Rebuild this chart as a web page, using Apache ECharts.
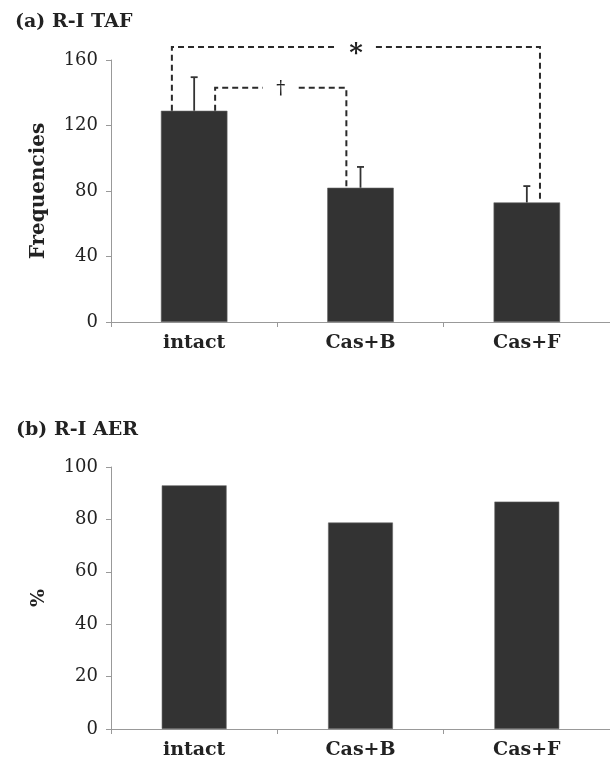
<!DOCTYPE html>
<html>
<head>
<meta charset="utf-8">
<script src="https://cdn.jsdelivr.net/npm/echarts@6/dist/echarts.min.js"></script>
<style>html,body{margin:0;padding:0;background:#fff}#c{width:610px;height:762px}</style>
</head>
<body>
<div id="c"></div>
<script>
// ---- data ----
const categories = ['intact', 'Cas+B', 'Cas+F'];
const tafMean = [129, 82, 73];
const tafErr = [20.5, 12.7, 10];
const aerPercent = [93, 78.8, 86.8];
const tafTicks = [0, 40, 80, 120, 160];
const aerTicks = [0, 20, 40, 60, 80, 100];
// significance brackets: from category, to category, bracket level, marker
const bracketFrom = [0, 0];
const bracketTo = [2, 1];
const bracketLevel = [168, 143];
const bracketMark = ['*', '\u2020'];

// ---- styling ----
const FONT = 'DejaVu Serif';
const BAR = '#333333';
const AXIS = '#999999';
// horizontal offsets of bracket ends, as a fraction of a category width
const leftOff = [-0.134, 0.126];
const rightOff = [0.079, -0.085];
const gapHalf = [20, 18];

const chart = echarts.init(document.getElementById('c'), null, {renderer: 'canvas'});

const bracketData = bracketFrom.map((f, i) => [f, bracketTo[i], bracketLevel[i], tafMean[f], tafMean[bracketTo[i]], i]);
const errData = categories.map((c, i) => [i, tafMean[i], tafMean[i] + tafErr[i]]);

function yAxisCfg(gi, ticks, name, nameSize) {
  return {
    type: 'value', gridIndex: gi, min: ticks[0], max: ticks[ticks.length - 1],
    interval: ticks[1] - ticks[0],
    name: name, nameLocation: 'middle', nameGap: 62, nameRotate: 90,
    nameTextStyle: {fontFamily: FONT, fontWeight: 'bold', fontSize: nameSize, color: '#222'},
    axisLine: {show: true, lineStyle: {color: AXIS, width: 1}},
    axisTick: {show: true, length: 5, lineStyle: {color: AXIS}},
    splitLine: {show: false},
    axisLabel: {fontFamily: FONT, fontSize: 18, color: '#222', margin: 13}
  };
}
function xAxisCfg(gi) {
  return {
    type: 'category', gridIndex: gi, data: categories,
    axisLine: {show: true, lineStyle: {color: AXIS, width: 1}},
    axisTick: {show: true, length: 5, alignWithLabel: false, lineStyle: {color: AXIS}},
    axisLabel: {fontFamily: FONT, fontWeight: 'bold', fontSize: 19, color: '#222', margin: 12}
  };
}

const option = {
  animation: false,
  backgroundColor: '#fff',
  title: [
    {text: '(a) R-I TAF', left: 10, top: 8, textStyle: {fontFamily: FONT, fontWeight: 'bold', fontSize: 19, color: '#222'}},
    {text: '(b) R-I AER', left: 11, top: 416, textStyle: {fontFamily: FONT, fontWeight: 'bold', fontSize: 19, color: '#222'}}
  ],
  grid: [
    {left: 111, top: 60, width: 502, height: 262},
    {left: 111, top: 467, width: 502, height: 262}
  ],
  xAxis: [xAxisCfg(0), xAxisCfg(1)],
  yAxis: [yAxisCfg(0, tafTicks, 'Frequencies', 20), yAxisCfg(1, aerTicks, '%', 19)],
  series: [
    {type: 'bar', xAxisIndex: 0, yAxisIndex: 0, data: tafMean, barWidth: '40%',
      itemStyle: {color: BAR, borderColor: '#666', borderWidth: 0.6}},
    {type: 'bar', xAxisIndex: 1, yAxisIndex: 1, data: aerPercent, barWidth: '39%',
      itemStyle: {color: BAR, borderColor: '#666', borderWidth: 0.6}},
    {type: 'custom', xAxisIndex: 0, yAxisIndex: 0, data: errData, z: 5,
      renderItem: function (params, api) {
        const b = api.coord([api.value(0), api.value(1)]);
        const t = api.coord([api.value(0), api.value(2)]);
        const cap = 3.5;
        return {type: 'group', children: [
          {type: 'line', shape: {x1: b[0], y1: b[1], x2: t[0], y2: t[1]}, style: {stroke: '#333', lineWidth: 1.8}},
          {type: 'line', shape: {x1: t[0] - cap, y1: t[1], x2: t[0] + cap, y2: t[1]}, style: {stroke: '#333', lineWidth: 1.8}}
        ]};
      }},
    {type: 'custom', xAxisIndex: 0, yAxisIndex: 0, data: bracketData, z: 6, clip: false,
      renderItem: function (params, api) {
        const i = api.value(5);
        const cw = api.size([1, 0])[0];
        const top = api.coord([api.value(0), api.value(2)]);
        const lb = api.coord([api.value(0), api.value(3)]);
        const rb = api.coord([api.value(1), api.value(4)]);
        const xl = top[0] + leftOff[i] * cw;
        const xr = rb[0] + rightOff[i] * cw;
        const y = top[1];
        const xm = (xl + xr) / 2;
        const st = {stroke: '#2a2a2a', lineWidth: 2, lineDash: [6, 4], fill: null};
        return {type: 'group', children: [
          {type: 'polyline', shape: {points: [[xl, lb[1]], [xl, y], [xm - gapHalf[i], y]]}, style: st},
          {type: 'polyline', shape: {points: [[xm + gapHalf[i], y], [xr, y], [xr, rb[1]]]}, style: st},
          {type: 'text', style: {text: bracketMark[i], x: xm, y: y + (i === 0 ? 7 : 1), align: 'center', verticalAlign: 'middle',
            font: (i === 0 ? 'bold 26px ' : '18px ') + FONT, fill: '#222'}}
        ]};
      }}
  ]
};
chart.setOption(option);
</script>
</body>
</html>
